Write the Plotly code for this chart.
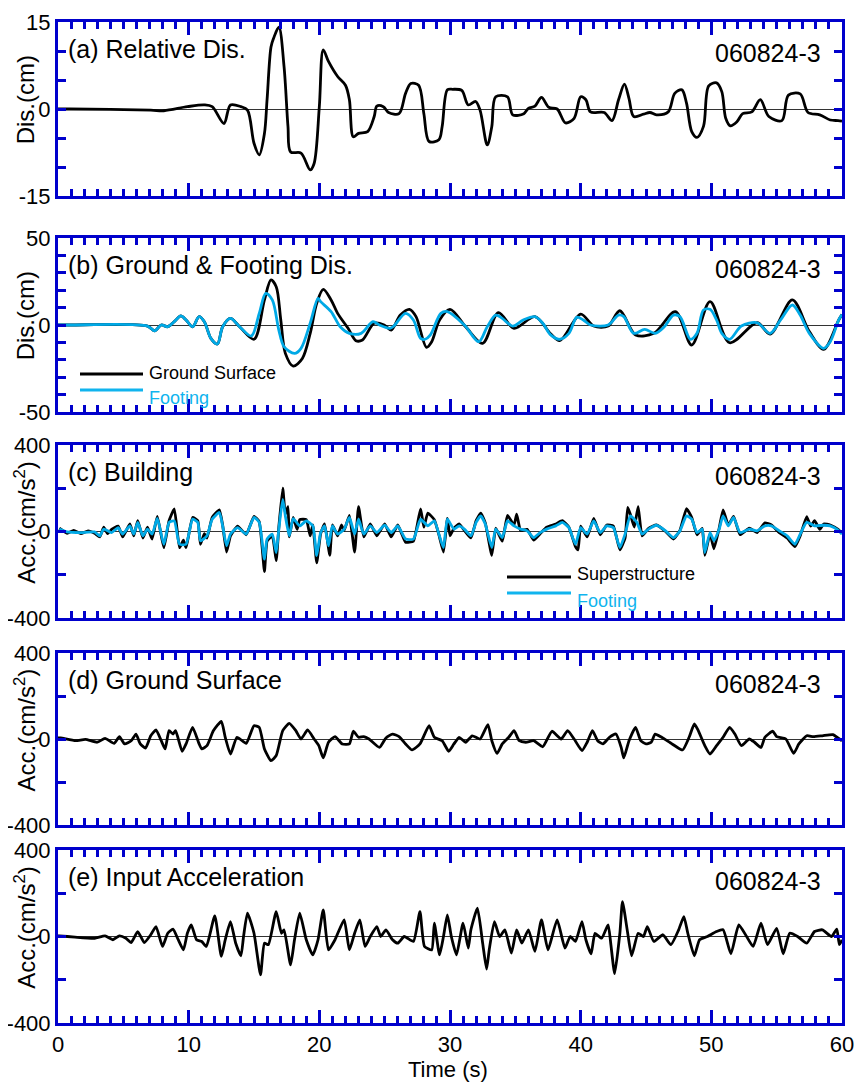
import plotly.graph_objects as go

# ---------------- data ----------------
REL_T = [0, 0.9, 7.1, 8.1, 9.9, 11.2, 11.8, 12.7, 13.2, 14.0, 14.5, 15.0, 15.4, 15.8, 16.0, 16.3, 16.5, 16.9,
         17.3, 17.6, 17.8, 18.6, 19.3, 19.6, 20.0, 20.3, 20.7, 21.4, 22.0, 22.3, 22.6, 23.0, 23.7, 24.2, 24.4,
         24.9, 25.3, 26.1, 26.6, 27.0, 27.6, 28.0, 28.4, 29.15, 29.4, 29.8, 30.2, 30.9, 31.4, 31.96, 32.3, 32.85,
         33.2, 33.5, 34.4, 34.8, 35.65, 36.0, 36.5, 37.0, 37.56, 38.2, 38.84, 39.5, 40.0, 40.4, 40.75, 41.8, 42.4,
         42.9, 43.35, 43.7, 44.06, 44.8, 45.3, 45.8, 46.7, 47.2, 47.75, 48.1, 48.5, 48.9, 49.4, 49.8, 50.4, 50.8,
         51.1, 51.45, 51.96, 52.4, 53.1, 53.75, 54.4, 55.4, 55.9, 56.8, 57.4, 58.3, 59.1, 59.7, 60.0]
REL_DIS = [0, 0, -0.2, -0.3, 0.4, 0.7, 0.4, -2.5, 0.7, 0.4, -0.2, -5.9, -7.9, -4.2, 1.6, 10.7, 12.2, 14.1,
           7.3, -3.0, -7.4, -7.6, -10.5, -9.4, 0.4, 10.2, 8.2, 5.6, 4.1, 1.6, -4.8, -4.2, -3.9, -1.3, 0.5,
           0.4, -0.6, -0.8, 2.7, 4.4, 4.1, -0.8, -5.6, -5.3, -3.0, 3.3, 3.4, 3.2, 0.7, 1.3, -0.2, -6.2,
           -3.0, 2.1, 2.1, -1.0, -0.8, 0.1, 0.5, 2.0, 0.3, 0.0, -2.4, -1.6, 2.1, 1.6, -0.5, -0.6, -2.0,
           1.6, 4.3, 1.8, -1.3, -0.9, -0.6, -1.0, -0.5, 2.7, 3.3, 1.0, -3.9, -4.9, -3.0, 4.0, 4.5, 3.0,
           -1.6, -2.9, -2.2, -0.8, -0.5, 1.6, -1.3, -2.0, 2.4, 2.6, -0.6, -1.0, -1.9, -2.0, -2.1]

FOOT_T = [0, 0.9, 6.85, 7.4, 7.9, 8.4, 8.9, 9.4, 9.8, 10.3, 10.8, 11.2, 11.7, 12.2, 12.6, 13.2, 13.9, 14.8,
          15.4, 15.9, 16.4, 16.9, 17.3, 18.1, 18.6, 19.3, 19.9, 20.1, 20.9, 21.6, 22.3, 23.2, 24.1, 24.6,
          25.4, 25.7, 26.6, 27.2, 27.75, 28.1, 28.5, 29.3, 29.8, 31.1, 32.2, 32.85, 33.5, 34.0, 34.8, 35.6,
          36.5, 37.1, 37.7, 38.4, 39.1, 39.7, 40.2, 40.75, 42.1, 42.9, 43.3, 44.06, 44.9, 45.7, 46.4, 47.1,
          47.6, 48.4, 48.9, 49.4, 49.9, 50.4, 50.8, 51.4, 52.3, 53.5, 54.5, 55.3, 56.2, 56.8, 57.5, 58.6,
          59.1, 59.75, 60.0]
FOOT_DIS = [0, 0, -0.6, -3.4, 0, -1, 1.9, 5.2, 2.9, -1, 4.8, 1.9, -7.7, -10.9, -1, 3.8, -1, -6.3,
            6.7, 18.2, 14.4, -2.9, -12.5, -16.3, -13.4, 1.0, 15.3, 13.4, 7.7, -1, -4.8, -4.8, 1.9, 0,
            -1.9, -0.6, 6.7, 2.9, -7.7, -8.2, -5.7, 6.7, 7.7, 0, -9.6, -1, 5.7, 3.8, -0.6, 2.9,
            4.8, 1.0, -5.7, -8.2, -4.8, 4.4, 2.9, 0, 0, 5.7, 4.8, -4.8, -2.5, -4.8, -1, 5.7,
            4.8, -8.2, -4.8, 8.6, 9.0, 2.9, -4.8, -8.2, -0.6, 1.3, -4.8, 2.9, 11.5, 5.7, -4.8, -13.4,
            -9.6, 2.9, 6.0]

GRND_T = [0, 0.9, 6.85, 7.4, 7.9, 8.4, 8.9, 9.4, 9.8, 10.3, 10.8, 11.2, 11.7, 12.2, 12.6, 13.2, 13.9, 15.0,
          15.8, 16.3, 16.7, 17.05, 17.4, 18.0, 18.7, 19.3, 19.8, 20.3, 20.9, 21.4, 22.2, 22.8, 23.3, 24.2,
          24.96, 25.5, 26.2, 26.9, 27.4, 28.2, 28.6, 29.2, 30.0, 31.2, 32.5, 33.7, 34.9, 36.5, 37.7, 38.4,
          40.0, 41.0, 42.1, 43.0, 44.2, 45.6, 47.25, 48.5, 49.9, 51.4, 53.5, 54.5, 56.2, 57.5, 58.6, 59.75, 60.0]
GRND_DIS = [0, 0, -0.6, -3.4, 0, -1, 1.9, 5.2, 2.9, -1, 4.8, 1.9, -7.7, -10.9, -1, 3.8, -1, -8.2,
            14.4, 25.9, 22.0, 2.9, -16.3, -23.6, -19.2, -4.8, 12.5, 20.5, 14.4, 6.7, -1.9, -9.0, -8.6, 1.0,
            0, -2.9, 5.7, 9.0, 4.8, -12.8, -9.6, 2.9, 9.0, -1.0, -10.5, 7.1, -1.9, 4.8, -5.0, -9.0,
            6.3, -0.6, -0.6, 8.2, -5.7, -4.8, 7.7, -11.5, 13.4, -10.2, 1.3, -5.2, 14.4, -3.8, -14.0, 2.9, 6.0]

FACC_T = [0.1, 0.7, 1.75, 2.8, 3.2, 3.5, 4.1, 4.6, 4.95, 5.5, 5.8, 6.1, 6.5, 6.85, 7.2, 7.6, 8.1, 8.5, 8.9,
          9.3, 9.8, 10.3, 10.7, 10.9, 11.4, 11.8, 12.35, 12.6, 12.9, 13.2, 13.75, 14.4, 15.0, 15.4, 15.8,
          16.0, 16.4, 16.7, 16.9, 17.2, 17.4, 17.7, 18.0, 18.5, 19.0, 19.5, 19.8, 20.1, 20.4, 20.7, 21.0,
          21.4, 21.9, 22.3, 22.7, 23.0, 23.4, 23.9, 24.4, 25.0, 25.5, 26.0, 26.6, 27.2, 27.75, 28.3, 28.8,
          29.15, 29.5, 29.8, 30.3, 30.7, 31.1, 31.6, 32.0, 32.35, 32.7, 33.2, 33.5, 34.0, 34.4, 34.9, 35.4,
          35.9, 36.4, 36.9, 37.4, 38.1, 38.6, 39.1, 39.6, 40.0, 40.5, 41.0, 41.5, 42.0, 42.5, 43.0, 43.4,
          43.8, 44.3, 44.7, 45.2, 45.8, 46.5, 47.1, 47.6, 48.1, 48.5, 48.9, 49.3, 49.5, 49.9, 50.2, 50.6,
          50.9, 51.3, 51.7, 52.2, 52.9, 53.5, 54.1, 54.6, 55.2, 55.8, 56.4, 56.8, 57.3, 57.9, 58.6, 59.1,
          59.7, 60.0]
FOOT_ACC = [11, -2, -5, -2, -20, 11, -5, 18, -12, 26, -12, 42, -20, 11, -12, 60, -59, 42, 49,
            -59, -59, 57, 42, -43, -20, 57, 88, 26, -66, -12, 18, -12, 65, 42, -128,
            -35, -12, -97, 11, 149, 72, -20, 60, 26, 49, 26, -112, -5, 26, -66, 26,
            -12, 11, 65, -12, 57, -12, 26, -5, 29, -5, 26, -35, -35, 57, 26, 49,
            -12, -74, 57, 11, 26, 11, -20, 42, 72, 34, -74, 11, -28, 49, 26, 11,
            3, -28, -5, 11, 26, 42, 18, -59, 18, -12, 49, -5, 26, 18, -74, -12,
            72, 42, -12, 11, 29, 3, -28, 3, 72, 57, -5, 11, -97, -5, -43, 11,
            72, 26, 65, -5, 11, 3, 26, 26, 3, -20, -59, -12, 42, 26, 29, 26,
            6, -12]

SACC_T = [0.1, 0.7, 1.2, 1.75, 2.3, 2.8, 3.2, 3.5, 3.8, 4.1, 4.6, 4.95, 5.5, 5.8, 6.1, 6.5, 6.85, 7.2, 7.6,
          8.1, 8.5, 8.9, 9.3, 9.6, 9.8, 10.3, 10.7, 10.9, 11.2, 11.4, 11.8, 12.35, 12.6, 12.9, 13.2, 13.75,
          14.4, 15.0, 15.4, 15.8, 16.0, 16.4, 16.7, 16.9, 17.2, 17.4, 17.6, 17.7, 18.0, 18.3, 18.5, 19.0,
          19.3, 19.5, 19.8, 20.1, 20.4, 20.8, 21.0, 21.4, 21.7, 21.9, 22.3, 22.7, 23.0, 23.4, 23.9, 24.4,
          25.0, 25.5, 26.0, 26.3, 26.6, 27.2, 27.75, 28.0, 28.3, 28.8, 29.15, 29.5, 29.8, 30.0, 30.3, 30.7,
          31.1, 31.6, 32.0, 32.35, 32.7, 33.2, 33.5, 34.0, 34.4, 34.9, 35.1, 35.4, 35.9, 36.4, 36.9, 37.4,
          38.1, 38.6, 39.1, 39.6, 39.8, 40.0, 40.5, 41.0, 41.5, 42.0, 42.5, 43.0, 43.4, 43.6, 43.8, 44.1,
          44.4, 44.7, 45.2, 45.8, 46.5, 47.1, 47.6, 48.1, 48.5, 48.9, 49.3, 49.5, 49.9, 50.2, 50.6, 50.9,
          51.3, 51.7, 52.2, 52.9, 53.5, 54.1, 54.6, 55.2, 55.8, 56.4, 56.8, 57.3, 57.6, 57.9, 58.3, 58.6,
          59.1, 59.7, 60.0]
SUPER_ACC = [15, -8, 5, -10, 3, -8, -25, 20, -10, 10, 25, -25, 35, -20, 50, -30, 20, -35, 70,
             -75, 50, 105, -75, -40, -75, 65, 50, -60, -10, -30, 65, 100, 30, -95, -20, 25,
             -15, 70, 45, -185, -45, -20, -135, 20, 200, 80, 115, -25, 65, 10, 55, 55,
             -20, 30, -145, -10, 35, -110, 30, -20, 30, 5, 75, -95, 115, -25, 35, -20,
             35, -25, 30, -10, -50, -45, 105, 20, 85, 55, -15, -95, 60, -20, 15, 35,
             5, -30, 50, 85, 40, -110, 15, -45, 75, 30, 80, 5, 10, -40, -10, 20,
             35, 50, 20, -70, -85, 25, -25, 60, -15, 30, 25, -85, -30, 111, 80, 20,
             115, -20, 15, 30, 0, -35, 5, 106, 65, -15, 15, -110, -10, -80, 15, 100,
             30, 70, -15, 15, -5, 40, 30, -5, -30, -70, -20, 69, 25, 50, 10, 35,
             30, 10, -10]

GACC_T = [0.0, 0.2, 1.35, 2.1, 3.0, 3.6, 4.3, 4.7, 5.1, 5.6, 5.97, 6.3, 6.7, 7.1, 7.5, 7.9, 8.2, 8.5, 8.8, 9.0,
          9.5, 9.8, 10.3, 10.8, 11.0, 11.4, 11.9, 12.5, 12.8, 13.2, 13.7, 14.4, 15.0, 15.4, 15.8, 16.3, 16.7,
          17.2, 17.7, 18.2, 18.6, 19.1, 19.6, 19.96, 20.3, 20.7, 21.2, 21.75, 22.3, 22.6, 23.0, 23.4, 23.8,
          24.6, 25.1, 25.6, 26.1, 26.6, 27.1, 27.7, 28.4, 28.8, 29.4, 29.9, 30.3, 30.7, 31.2, 31.7, 32.3,
          32.9, 33.2, 33.6, 34.0, 34.5, 34.9, 35.3, 35.8, 36.4, 37.1, 37.8, 38.5, 39.0, 39.5, 40.1, 40.5,
          40.9, 41.3, 41.7, 42.2, 42.7, 43.1, 43.3, 43.7, 44.2, 44.6, 45.0, 45.4, 45.7, 46.2, 47.0, 47.8,
          48.3, 48.7, 49.0, 49.5, 49.9, 50.4, 50.9, 51.4, 51.8, 52.3, 52.9, 53.3, 53.8, 54.1, 54.7, 55.0,
          55.7, 56.3, 56.7, 57.3, 57.8, 58.5, 59.3, 59.8, 60.0]
GROUND_ACC = [5, 5, -8, -2, -15, 3, -20, 11, -23, -8, 23, -23, -42, 15, 42, -8, -46, 39, 23, 39,
              -57, -23, 54, -23, -46, -31, 39, 82, 8, -70, 8, -20, 62, 54, -46, -101, -77,
              39, 73, 39, 0, 42, 0, -31, -88, -15, 11, -23, -23, 36, 8, 11, 0,
              -39, 5, 23, 11, -23, -51, -23, 62, 8, -8, -57, -23, 8, -15, 15, 0,
              67, -8, -67, -23, 8, 39, -8, -15, -8, -36, 36, 0, 39, 0, -54, -15,
              39, -8, -23, 8, 23, -39, -88, -8, 54, -8, -23, -15, 23, 8, -23, -51,
              8, 70, 39, -31, -70, -31, 8, 54, 23, -31, 0, -15, -39, 8, 36, 11,
              0, -67, -23, 15, 11, 15, 20, 0, -8]

IACC_T = [0.0, 0.1, 1.3, 2.8, 3.6, 4.2, 4.7, 5.2, 5.6, 6.1, 6.6, 7.1, 7.5, 8.0, 8.4, 8.8, 9.2, 9.6, 9.9, 10.2,
          10.6, 11.0, 11.35, 12.0, 12.5, 12.8, 13.2, 13.6, 14.0, 14.2, 14.5, 15.0, 15.5, 15.8, 16.1, 16.7,
          17.1, 17.3, 17.8, 18.1, 18.5, 19.0, 19.5, 19.9, 20.3, 20.7, 21.2, 21.9, 22.3, 22.7, 23.1, 23.5,
          23.9, 24.4, 24.7, 25.1, 25.6, 26.0, 26.5, 27.2, 27.7, 28.05, 28.6, 28.8, 29.2, 29.5, 29.8, 30.1,
          30.5, 31.0, 31.4, 31.6, 32.1, 32.5, 32.8, 33.0, 33.4, 33.8, 34.2, 34.7, 35.1, 35.5, 36.0, 36.5,
          37.0, 37.5, 38.2, 38.8, 39.2, 39.6, 40.1, 40.4, 40.8, 41.1, 41.6, 42.1, 42.3, 42.6, 43.0, 43.2,
          43.6, 43.9, 44.4, 44.8, 45.1, 45.6, 46.3, 46.9, 47.5, 47.9, 48.2, 48.7, 49.1, 49.7, 50.4, 50.9,
          51.5, 52.1, 52.7, 53.2, 53.8, 54.3, 55.0, 55.5, 56.0, 56.6, 57.3, 57.9, 58.5, 59.2, 59.6, 59.8,
          60.0]
INPUT_ACC = [3, 3, -3, -8, 3, -15, 3, -8, -28, 23, -28, 8, 46, -46, 15, 34, -15, -62, 15, 54,
             -15, -23, -46, 95, -92, -15, 69, -31, -89, 0, 108, 15, -177, -31, -38, 115,
             15, 31, -131, -15, 108, -15, -85, -15, 123, -62, -15, 77, -62, 15, 77, -46,
             0, 46, 0, 31, -15, -31, 0, -23, 115, -46, -62, 62, -85, 0, 100, 0,
             -85, 62, -54, 31, 131, -31, -151, -62, 69, 0, 31, -77, 31, -31, 31, -69,
             77, -62, 77, -54, 0, -23, 69, -15, -80, 15, -8, 54, -31, -172, 15, 161,
             15, -89, 15, 0, 46, -23, 8, -38, 31, 92, 15, -89, -15, 0, 23, 31,
             -80, 54, 0, -46, 62, -38, 38, -80, 15, 0, -31, 23, 31, 0, 34, -38,
             -15]

PANEL_LABELS = ["(a) Relative Dis.", "(b) Ground & Footing Dis.", "(c) Building",
                "(d) Ground Surface", "(e) Input Acceleration"]
RUN_ID = "060824-3"
Y_TITLES = ["Dis.(cm)", "Dis.(cm)", "Acc.(cm/s<sup>2</sup>)", "Acc.(cm/s<sup>2</sup>)", "Acc.(cm/s<sup>2</sup>)"]
Y_LIMITS = [15, 50, 400, 400, 400]
Y_MINOR = [5, 10, 200, 200, 200]
X_TICKS = [0, 10, 20, 30, 40, 50, 60]

# ---------------- styling ----------------
OFF = 8                      # page body margin of the html page
W, H = 863 - OFF, 1086 - OFF  # figure size so that the page shows it in place
FONT = "Liberation Sans, Arial, Helvetica, sans-serif"
BLUE = "#0000CC"
CYAN = "#00A9E6"
X0, X1 = 58 - OFF, 842 - OFF
PANEL_PX = [(22 - OFF, 196 - OFF), (238 - OFF, 412 - OFF), (445 - OFF, 618 - OFF),
            (653 - OFF, 825 - OFF), (850 - OFF, 1023 - OFF)]

fig = go.Figure()

def ax(i, kind):
    return kind if i == 0 else f"{kind}{i+1}"

series = [
    [(REL_T, REL_DIS, "black", 0.9)],
    [(GRND_T, GRND_DIS, "black", 0.9), (FOOT_T, FOOT_DIS, CYAN, 0.9)],
    [(SACC_T, SUPER_ACC, "black", 0.4), (FACC_T, FOOT_ACC, CYAN, 0.5)],
    [(GACC_T, GROUND_ACC, "black", 0.5)],
    [(IACC_T, INPUT_ACC, "black", 0.5)],
]

for i, group in enumerate(series):
    for t, v, c, sm in group:
        fig.add_trace(go.Scatter(x=t, y=v, mode="lines", xaxis=ax(i, "x"), yaxis=ax(i, "y"),
                                 line=dict(color=c, width=2.8, shape="spline", smoothing=sm),
                                 showlegend=False, hoverinfo="skip"))

layout = dict(width=W, height=H, margin=dict(l=0, r=0, t=0, b=0, pad=0, autoexpand=False),
              paper_bgcolor="white", plot_bgcolor="white",
              font=dict(family=FONT, size=22, color="black"), showlegend=False)

annotations = []
shapes = []
for i in range(5):
    top, bot = PANEL_PX[i]
    R = Y_LIMITS[i]
    xname = "xaxis" if i == 0 else f"xaxis{i+1}"
    yname = "yaxis" if i == 0 else f"yaxis{i+1}"
    layout[xname] = dict(
        domain=[X0 / W, X1 / W], range=[0, 60], anchor=ax(i, "y"), automargin=False,
        showline=True, linecolor=BLUE, linewidth=3, mirror="ticks",
        ticks="inside", ticklen=13, tickwidth=3, tickcolor=BLUE,
        tickmode="array", tickvals=X_TICKS, ticktext=[str(v) for v in X_TICKS],
        showticklabels=(i == 4), tickfont=dict(size=22, color="black", family=FONT),
        showgrid=False, zeroline=False,
        minor=dict(dtick=1, tick0=0, ticks="inside", ticklen=7, tickwidth=3, tickcolor=BLUE, showgrid=False),
    )
    layout[yname] = dict(
        domain=[1 - bot / H, 1 - top / H], range=[-R, R], anchor=ax(i, "x"), automargin=False,
        showline=True, linecolor=BLUE, linewidth=3, mirror="ticks",
        ticks="inside", ticklen=8, tickwidth=3, tickcolor=BLUE,
        tickmode="array", tickvals=[-R, 0, R], ticktext=[f"-{R}", "0", f"{R}"],
        tickfont=dict(size=22, color="black", family=FONT),
        showgrid=False, zeroline=True, zerolinecolor="#333333", zerolinewidth=1,
        minor=dict(dtick=Y_MINOR[i], tick0=0, ticks="inside", ticklen=8, tickwidth=3, tickcolor=BLUE, showgrid=False),
    )
    h = bot - top
    annotations.append(dict(text=PANEL_LABELS[i], xref=f"{ax(i,'x')} domain", yref=f"{ax(i,'y')} domain",
                            x=8 / (X1 - X0), y=1 - 27 / h, xanchor="left", yanchor="middle", showarrow=False,
                            font=dict(size=25, color="black", family=FONT)))
    annotations.append(dict(text=RUN_ID, xref=f"{ax(i,'x')} domain", yref=f"{ax(i,'y')} domain",
                            x=1 - 19 / (X1 - X0), y=1 - 31 / h, xanchor="right", yanchor="middle", showarrow=False,
                            font=dict(size=25, color="black", family=FONT)))
    annotations.append(dict(text=Y_TITLES[i], xref="paper", yref=f"{ax(i,'y')} domain",
                            x=(25 - OFF) / W, y=0.55, xanchor="center", yanchor="middle", textangle=-90,
                            showarrow=False, font=dict(size=24, color="black", family=FONT)))

# legends (panel b and c)
def legend_entry(i, x0px, x1px, ypx_line, text, color, ypx_text, size):
    top, bot = PANEL_PX[i]
    h = bot - top
    x0px, x1px, ypx_line, ypx_text = x0px - OFF, x1px - OFF, ypx_line - OFF, ypx_text - OFF
    xr = f"{ax(i,'x')} domain"
    yr = f"{ax(i,'y')} domain"
    shapes.append(dict(type="line", xref=xr, yref=yr,
                       x0=(x0px - X0) / (X1 - X0), x1=(x1px - X0) / (X1 - X0),
                       y0=1 - (ypx_line - top) / h, y1=1 - (ypx_line - top) / h,
                       line=dict(color=color, width=3)))
    annotations.append(dict(text=text, xref=xr, yref=yr, x=(x1px + 4 - X0) / (X1 - X0),
                            y=1 - (ypx_text - top) / h, xanchor="left", yanchor="middle", showarrow=False,
                            font=dict(size=size, color=color, family=FONT)))

legend_entry(1, 80, 143, 374, "Ground Surface", "black", 373, 18)
legend_entry(1, 80, 143, 390, "Footing", "#10B4EE", 398, 18)
legend_entry(2, 507, 571, 577, "Superstructure", "black", 574, 18)
legend_entry(2, 507, 571, 593, "Footing", "#10B4EE", 601, 18)

annotations.append(dict(text="Time (s)", xref="paper", yref="paper", x=(448 - OFF) / W, y=1 - (1069 - OFF) / H,
                        xanchor="center", yanchor="middle", showarrow=False,
                        font=dict(size=22, color="black", family=FONT)))

layout["annotations"] = annotations
layout["shapes"] = shapes
fig.update_layout(**layout)
fig.write_html("out.html")
